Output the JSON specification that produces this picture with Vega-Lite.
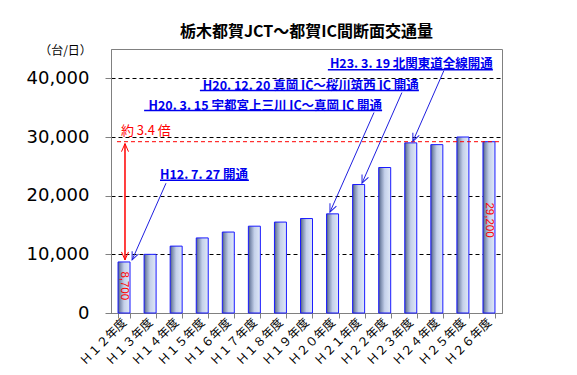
{
  "$schema": "https://vega.github.io/schema/vega-lite/v6.json",
  "autosize": {"type": "none"},
  "padding": {"left": 111, "top": 49, "right": 75, "bottom": 62},
  "width": 391,
  "height": 264,
  "background": "white",
  "config": {
    "view": {"stroke": "#808080", "strokeWidth": 1},
    "font": "Noto Sans CJK JP",
    "axisY": {
      "titleAngle": 0,
      "titleAlign": "center",
      "titleBaseline": "middle",
      "titleX": -46,
      "titleY": 1,
      "titleFont": "Noto Sans CJK JP",
      "titleFontSize": 12,
      "titleFontWeight": "normal",
      "titleColor": "#000000",
      "labelFont": "DejaVu Sans",
      "labelFontSize": 18,
      "labelColor": "#000000",
      "labelPadding": 16,
      "tickSize": 6,
      "tickColor": "#808080",
      "domainColor": "#808080",
      "grid": true,
      "gridColor": "#000000",
      "gridDash": [4, 3],
      "gridWidth": 1
    }
  },
  "title": {
    "text": "栃木都賀JCT～都賀IC間断面交通量",
    "font": "Noto Sans CJK JP",
    "fontSize": 16,
    "fontWeight": "bold",
    "color": "#000000",
    "anchor": "middle",
    "frame": "group",
    "offset": 4
  },
  "datasets": {
    "traffic": [
      {"year": "Ｈ１２年度", "value": 8700},
      {"year": "Ｈ１３年度", "value": 10000},
      {"year": "Ｈ１４年度", "value": 11400},
      {"year": "Ｈ１５年度", "value": 12800},
      {"year": "Ｈ１６年度", "value": 13800},
      {"year": "Ｈ１７年度", "value": 14800},
      {"year": "Ｈ１８年度", "value": 15500},
      {"year": "Ｈ１９年度", "value": 16100},
      {"year": "Ｈ２０年度", "value": 16900},
      {"year": "Ｈ２１年度", "value": 21900},
      {"year": "Ｈ２２年度", "value": 24800},
      {"year": "Ｈ２３年度", "value": 29000},
      {"year": "Ｈ２４年度", "value": 28700},
      {"year": "Ｈ２５年度", "value": 30000},
      {"year": "Ｈ２６年度", "value": 29200}
    ],
    "blueArrows": [
      {"u1": 2.11, "v1": 22122, "u2": 0.81, "v2": 9049},
      {"u1": 10.09, "v1": 34177, "u2": 8.40, "v2": 17199},
      {"u1": 11.16, "v1": 37572, "u2": 9.63, "v2": 22122},
      {"u1": 12.77, "v1": 41307, "u2": 11.58, "v2": 29253}
    ],
    "redArrows": [
      {"u1": 0.537, "v1": 9049, "u2": 0.537, "v2": 28863},
      {"u1": 0.537, "v1": 28863, "u2": 0.537, "v2": 9049}
    ],
    "notesRight": [
      {"label": "H23. 3. 19 北関東道全線開通", "u": 14.65, "v": 42496},
      {"label": "H20. 12. 20 真岡 IC～桜川筑西 IC 開通", "u": 11.81, "v": 38761},
      {"label": "H20. 3. 15 宇都宮上三川 IC～真岡 IC 開通", "u": 10.40, "v": 35365}
    ],
    "notesLeft": [
      {"label": "H12. 7. 27 開通", "u": 1.88, "v": 23480}
    ],
    "underlines": [
      {"u1": 8.32, "u2": 14.65, "v": 41477},
      {"u1": 3.41, "u2": 11.81, "v": 37912},
      {"u1": 1.27, "u2": 10.40, "v": 34516},
      {"u1": 1.88, "u2": 5.29, "v": 22632}
    ],
    "redLine": [
      {"u1": 0.23, "u2": 15, "v": 29200}
    ],
    "redNote": [
      {"label": "約 3.4 倍", "u": 0.38, "v": 30950}
    ],
    "valueLabels": [
      {"label": "8,700", "u": 0.5, "v": 4640},
      {"label": "29,200", "u": 14.5, "v": 15840}
    ]
  },
  "resolve": {"scale": {"x": "independent"}},
  "layer": [
    {
      "data": {"name": "traffic"},
      "mark": {
        "type": "bar",
        "stroke": "#1a1aff",
        "strokeWidth": 1,
        "color": {
          "gradient": "linear",
          "x1": 0, "x2": 1, "y1": 0, "y2": 0,
          "stops": [
            {"offset": 0, "color": "#4b5a7a"},
            {"offset": 0.18, "color": "#7f8fb0"},
            {"offset": 0.5, "color": "#c4d0ea"},
            {"offset": 1, "color": "#e0e9f8"}
          ]
        }
      },
      "encoding": {
        "x": {
          "field": "year", "type": "nominal", "sort": null,
          "scale": {"type": "band", "paddingInner": 0.54, "paddingOuter": 0.27},
          "axis": {
            "title": null,
            "labelAngle": -45,
            "labelAlign": "right",
            "labelBaseline": "middle",
            "labelFont": "Noto Sans CJK JP",
            "labelFontSize": 12,
            "labelColor": "#000000",
            "labelPadding": 2,
            "labelOverlap": false,
            "labelBound": false,
            "tickBand": "extent",
            "tickSize": 5,
            "tickColor": "#808080",
            "domainColor": "#808080",
            "grid": false
          }
        },
        "y": {
          "field": "value", "type": "quantitative",
          "scale": {"domain": [0, 45000], "nice": false},
          "axis": {
            "title": "（台/日）",
            "values": [0, 10000, 20000, 30000, 40000],
            "format": ",d",
            "grid": true
          }
        }
      }
    },
    {
      "data": {"name": "redLine"},
      "mark": {"type": "rule", "color": "#ff0000", "strokeDash": [4, 3], "strokeWidth": 1},
      "encoding": {
        "x": {"field": "u1", "type": "quantitative", "scale": {"domain": [0, 15], "nice": false, "zero": false}, "axis": null},
        "x2": {"field": "u2"},
        "y": {"field": "v", "type": "quantitative", "scale": {"domain": [0, 45000], "nice": false}, "axis": {"title": "（台/日）"}}
      }
    },
    {
      "data": {"name": "redArrows"},
      "mark": {"type": "rule", "color": "#ff0000", "strokeWidth": 1},
      "encoding": {
        "x": {"field": "u1", "type": "quantitative", "scale": {"domain": [0, 15], "nice": false, "zero": false}, "axis": null},
        "x2": {"field": "u2"},
        "y": {"field": "v1", "type": "quantitative", "scale": {"domain": [0, 45000], "nice": false}, "axis": {"title": "（台/日）"}},
        "y2": {"field": "v2"}
      }
    },
    {
      "data": {"name": "redArrows"},
      "transform": [
        {"calculate": "atan2(-(datum.u2 - datum.u1) * 26.07, -(datum.v2 - datum.v1) * 0.00589) * 180 / PI", "as": "ang"}
      ],
      "mark": {"type": "point", "shape": "M-0.7,-1.6L0,0L0.7,-1.6", "filled": false, "color": "#ff0000", "strokeWidth": 1, "size": 100, "opacity": 1},
      "encoding": {
        "x": {"field": "u2", "type": "quantitative", "scale": {"domain": [0, 15], "nice": false, "zero": false}, "axis": null},
        "y": {"field": "v2", "type": "quantitative", "scale": {"domain": [0, 45000], "nice": false}, "axis": {"title": "（台/日）"}},
        "angle": {"field": "ang", "type": "quantitative", "scale": null}
      }
    },
    {
      "data": {"name": "blueArrows"},
      "mark": {"type": "rule", "color": "#1f1fe0", "strokeWidth": 1},
      "encoding": {
        "x": {"field": "u1", "type": "quantitative", "scale": {"domain": [0, 15], "nice": false, "zero": false}, "axis": null},
        "x2": {"field": "u2"},
        "y": {"field": "v1", "type": "quantitative", "scale": {"domain": [0, 45000], "nice": false}, "axis": {"title": "（台/日）"}},
        "y2": {"field": "v2"}
      }
    },
    {
      "data": {"name": "blueArrows"},
      "transform": [
        {"calculate": "atan2(-(datum.u2 - datum.u1) * 26.07, -(datum.v2 - datum.v1) * 0.00589) * 180 / PI", "as": "ang"}
      ],
      "mark": {"type": "point", "shape": "M-0.7,-1.6L0,0L0.7,-1.6", "filled": false, "color": "#1f1fe0", "strokeWidth": 1, "size": 100, "opacity": 1},
      "encoding": {
        "x": {"field": "u2", "type": "quantitative", "scale": {"domain": [0, 15], "nice": false, "zero": false}, "axis": null},
        "y": {"field": "v2", "type": "quantitative", "scale": {"domain": [0, 45000], "nice": false}, "axis": {"title": "（台/日）"}},
        "angle": {"field": "ang", "type": "quantitative", "scale": null}
      }
    },
    {
      "data": {"name": "underlines"},
      "mark": {"type": "rule", "color": "#0000ee", "strokeWidth": 1.5},
      "encoding": {
        "x": {"field": "u1", "type": "quantitative", "scale": {"domain": [0, 15], "nice": false, "zero": false}, "axis": null},
        "x2": {"field": "u2"},
        "y": {"field": "v", "type": "quantitative", "scale": {"domain": [0, 45000], "nice": false}, "axis": {"title": "（台/日）"}}
      }
    },
    {
      "data": {"name": "notesRight"},
      "mark": {"type": "text", "align": "right", "baseline": "middle", "font": "Noto Sans CJK JP", "fontSize": 12.5, "fontWeight": "bold", "color": "#0000ee"},
      "encoding": {
        "x": {"field": "u", "type": "quantitative", "scale": {"domain": [0, 15], "nice": false, "zero": false}, "axis": null},
        "y": {"field": "v", "type": "quantitative", "scale": {"domain": [0, 45000], "nice": false}, "axis": {"title": "（台/日）"}},
        "text": {"field": "label"}
      }
    },
    {
      "data": {"name": "notesLeft"},
      "mark": {"type": "text", "align": "left", "baseline": "middle", "font": "Noto Sans CJK JP", "fontSize": 12.5, "fontWeight": "bold", "color": "#0000ee"},
      "encoding": {
        "x": {"field": "u", "type": "quantitative", "scale": {"domain": [0, 15], "nice": false, "zero": false}, "axis": null},
        "y": {"field": "v", "type": "quantitative", "scale": {"domain": [0, 45000], "nice": false}, "axis": {"title": "（台/日）"}},
        "text": {"field": "label"}
      }
    },
    {
      "data": {"name": "redNote"},
      "mark": {"type": "text", "align": "left", "baseline": "middle", "font": "Noto Sans CJK JP", "fontSize": 13, "color": "#ff0000"},
      "encoding": {
        "x": {"field": "u", "type": "quantitative", "scale": {"domain": [0, 15], "nice": false, "zero": false}, "axis": null},
        "y": {"field": "v", "type": "quantitative", "scale": {"domain": [0, 45000], "nice": false}, "axis": {"title": "（台/日）"}},
        "text": {"field": "label"}
      }
    },
    {
      "data": {"name": "valueLabels"},
      "mark": {"type": "text", "align": "center", "baseline": "middle", "angle": 90, "font": "Liberation Sans", "fontSize": 11.5, "color": "#ff0000"},
      "encoding": {
        "x": {"field": "u", "type": "quantitative", "scale": {"domain": [0, 15], "nice": false, "zero": false}, "axis": null},
        "y": {"field": "v", "type": "quantitative", "scale": {"domain": [0, 45000], "nice": false}, "axis": {"title": "（台/日）"}},
        "text": {"field": "label"}
      }
    }
  ]
}
